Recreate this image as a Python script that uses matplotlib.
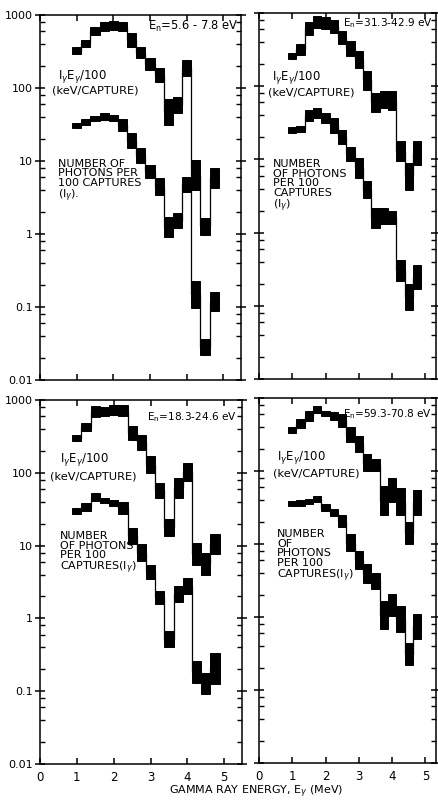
import matplotlib
matplotlib.use("Agg")
import matplotlib.pyplot as plt
from matplotlib.ticker import FixedLocator, FixedFormatter, NullFormatter

# gamma-ray energy bins (MeV), 0.25 MeV wide
bin_edges = [0.875, 1.125, 1.375, 1.625, 1.875, 2.125, 2.375, 2.625, 2.875,
             3.125, 3.375, 3.625, 3.875, 4.125, 4.375, 4.625, 4.875]

# neutron energy windows
labels_en = ["5.6 - 7.8 eV", "31.3-42.9 eV", "18.3-24.6 eV", "59.3-70.8 eV"]

# I_g E_g / 100 (keV/capture): lower and upper limit per bin
ie_lo_a = [290, 365, 540, 600, 620, 600, 370, 255, 176, 122, 31, 45, 145, 4.0, 0.98, 4.3]
ie_hi_a = [360, 460, 690, 810, 830, 800, 560, 365, 255, 186, 70, 76, 240, 10.3, 1.64, 7.9]
ie_lo_b = [232, 271, 500, 630, 610, 540, 372, 258, 178, 90, 45, 50, 47, 9.4, 3.8, 8.5]
ie_hi_b = [286, 372, 760, 900, 880, 800, 566, 413, 301, 160, 81, 85, 85, 17.6, 9.0, 17.7]
ie_lo_c = [272, 372, 580, 597, 630, 600, 286, 208, 100, 45, 13.5, 45, 77, 5.5, 4.0, 7.6]
ie_hi_c = [335, 484, 830, 793, 845, 845, 436, 335, 169, 73, 23, 85, 137, 11, 8.0, 14.3]
ie_lo_d = [330, 390, 480, 620, 560, 500, 400, 250, 180, 100, 100, 25, 38, 25, 10, 25]
ie_hi_d = [400, 510, 660, 780, 660, 640, 600, 400, 300, 170, 145, 62, 80, 58, 20, 55]

# I_g, photons per 100 captures: lower and upper limit per bin
n_lo_a = [28, 31, 35, 37, 35, 26, 15, 9.3, 5.8, 3.4, 0.92, 1.2, 3.8, 0.096, 0.022, 0.087]
n_hi_a = [33, 38, 42, 45, 43, 38, 24, 15, 8.8, 5.8, 1.73, 1.92, 6.1, 0.23, 0.037, 0.16]
n_lo_b = [23, 24, 33, 37, 31, 23, 16, 9.4, 5.5, 2.95, 1.15, 1.3, 1.3, 0.22, 0.087, 0.17]
n_hi_b = [28, 29, 48, 50, 43, 37, 25, 15, 10.4, 5.0, 2.15, 2.15, 2.0, 0.42, 0.20, 0.36]
n_lo_c = [27, 30, 41, 38, 35, 27, 10.4, 6.2, 3.5, 1.57, 0.40, 1.66, 2.15, 0.13, 0.092, 0.126]
n_hi_c = [33, 38, 53, 45, 42, 40, 17.6, 10.4, 5.5, 2.4, 0.68, 2.8, 3.6, 0.26, 0.18, 0.34]
n_lo_d = [33, 33, 35, 38, 28, 24, 17, 8.0, 4.5, 2.95, 2.4, 0.68, 1.03, 0.62, 0.22, 0.5]
n_hi_d = [39, 40, 41, 45, 35, 30, 25, 13.5, 8.0, 5.3, 4.0, 1.66, 2.05, 1.4, 0.44, 1.1]

y_ticks = [0.01, 0.1, 1, 10, 100, 1000]
y_ticklabels = ["0.01", "0.1", "1", "10", "100", "1000"]
y_minor = [d * m for d in [0.01, 0.1, 1, 10, 100] for m in (2, 4, 6, 8)]
x_ticks = [0, 1, 2, 3, 4, 5]

W, H = 438, 802


def box(left, top, right, bottom):
    return [left / W, 1 - bottom / H, (right - left) / W, (bottom - top) / H]


def draw_band(ax, lo, hi):
    widths = [b - a for a, b in zip(bin_edges[:-1], bin_edges[1:])]
    heights = [h - l for l, h in zip(lo, hi)]
    ax.bar(bin_edges[:-1], heights, width=widths, bottom=lo, align="edge",
           color="black", edgecolor="black", linewidth=0.7, zorder=3)
    mid = [(l * h) ** 0.5 for l, h in zip(lo, hi)]
    ax.stairs(mid, bin_edges, baseline=None, color="black", linewidth=0.9, zorder=3)


def setup(ax, xlim, show_y, show_x):
    ax.set_yscale("log")
    ax.set_ylim(0.01, 1000)
    ax.set_xlim(*xlim)
    ax.yaxis.set_major_locator(FixedLocator(y_ticks))
    ax.yaxis.set_major_formatter(FixedFormatter(y_ticklabels))
    ax.yaxis.set_minor_locator(FixedLocator(y_minor))
    ax.yaxis.set_minor_formatter(NullFormatter())
    ax.set_xticks(x_ticks)
    ax.tick_params(axis="y", which="major", direction="inout", length=7, width=1.1,
                   left=True, right=True, labelleft=show_y, labelsize=8, pad=1.5)
    ax.tick_params(axis="y", which="minor", direction="in", length=3.5, width=1.0,
                   left=True, right=True)
    ax.tick_params(axis="x", which="major", direction="in", length=4, width=1.1,
                   top=True, bottom=True, labelbottom=show_x, labelsize=8.5, pad=5)
    for s in ax.spines.values():
        s.set_linewidth(1.1)


fig = plt.figure(figsize=(W / 100, H / 100), dpi=100)

panels = [
    dict(rect=box(40, 15, 241, 380), xlim=(0, 5.48), ylab=True, xlab=False,
         ie=(ie_lo_a, ie_hi_a), n=(n_lo_a, n_hi_a), en=labels_en[0], en_size=8.3,
         en_pos=(0.99, 0.970), ie_pos=(0.09, 0.832), kev_pos=(0.06, 0.792),
         num_pos=(0.09, 0.606),
         num_text="NUMBER OF\nPHOTONS PER\n100 CAPTURES\n(I$_\\gamma$)."),
    dict(rect=box(259, 13, 436, 379), xlim=(0.48, 5.32), ylab=False, xlab=False,
         ie=(ie_lo_b, ie_hi_b), n=(n_lo_b, n_hi_b), en=labels_en[1], en_size=7.6,
         en_pos=(0.98, 0.973), ie_pos=(0.073, 0.825), kev_pos=(0.051, 0.783),
         num_pos=(0.079, 0.601),
         num_text="NUMBER\nOF PHOTONS\nPER 100\nCAPTURES\n(I$_\\gamma$)"),
    dict(rect=box(40, 400, 242, 764), xlim=(0, 5.48), ylab=True, xlab=True,
         ie=(ie_lo_c, ie_hi_c), n=(n_lo_c, n_hi_c), en=labels_en[2], en_size=7.6,
         en_pos=(0.975, 0.953), ie_pos=(0.099, 0.836), kev_pos=(0.05, 0.791),
         num_pos=(0.099, 0.640),
         num_text="NUMBER\nOF PHOTONS\nPER 100\nCAPTURES(I$_\\gamma$)"),
    dict(rect=box(259, 398, 436, 763), xlim=(0.48, 5.32), ylab=False, xlab=True,
         ie=(ie_lo_d, ie_hi_d), n=(n_lo_d, n_hi_d), en=labels_en[3], en_size=7.6,
         en_pos=(0.98, 0.956), ie_pos=(0.102, 0.836), kev_pos=(0.079, 0.794),
         num_pos=(0.102, 0.641),
         num_text="NUMBER\nOF\nPHOTONS\nPER 100\nCAPTURES(I$_\\gamma$)"),
]

for p in panels:
    ax = fig.add_axes(p["rect"])
    setup(ax, p["xlim"], p["ylab"], p["xlab"])
    draw_band(ax, *p["ie"])
    draw_band(ax, *p["n"])
    ax.text(*p["en_pos"], "E$_\\mathrm{n}$=" + p["en"], transform=ax.transAxes,
            ha="right", va="center", fontsize=p["en_size"])
    ax.text(*p["ie_pos"], "I$_\\gamma$E$_\\gamma$/100", transform=ax.transAxes,
            ha="left", va="center", fontsize=8.4)
    ax.text(*p["kev_pos"], "(keV/CAPTURE)", transform=ax.transAxes,
            ha="left", va="center", fontsize=8.2)
    ax.text(*p["num_pos"], p["num_text"], transform=ax.transAxes,
            ha="left", va="top", fontsize=8, linespacing=0.95)

fig.text(256 / W, 1 - 792 / H, "GAMMA RAY ENERGY, E$_\\gamma$ (MeV)",
         ha="center", va="center", fontsize=8)

fig.savefig("out.png", dpi=100)
